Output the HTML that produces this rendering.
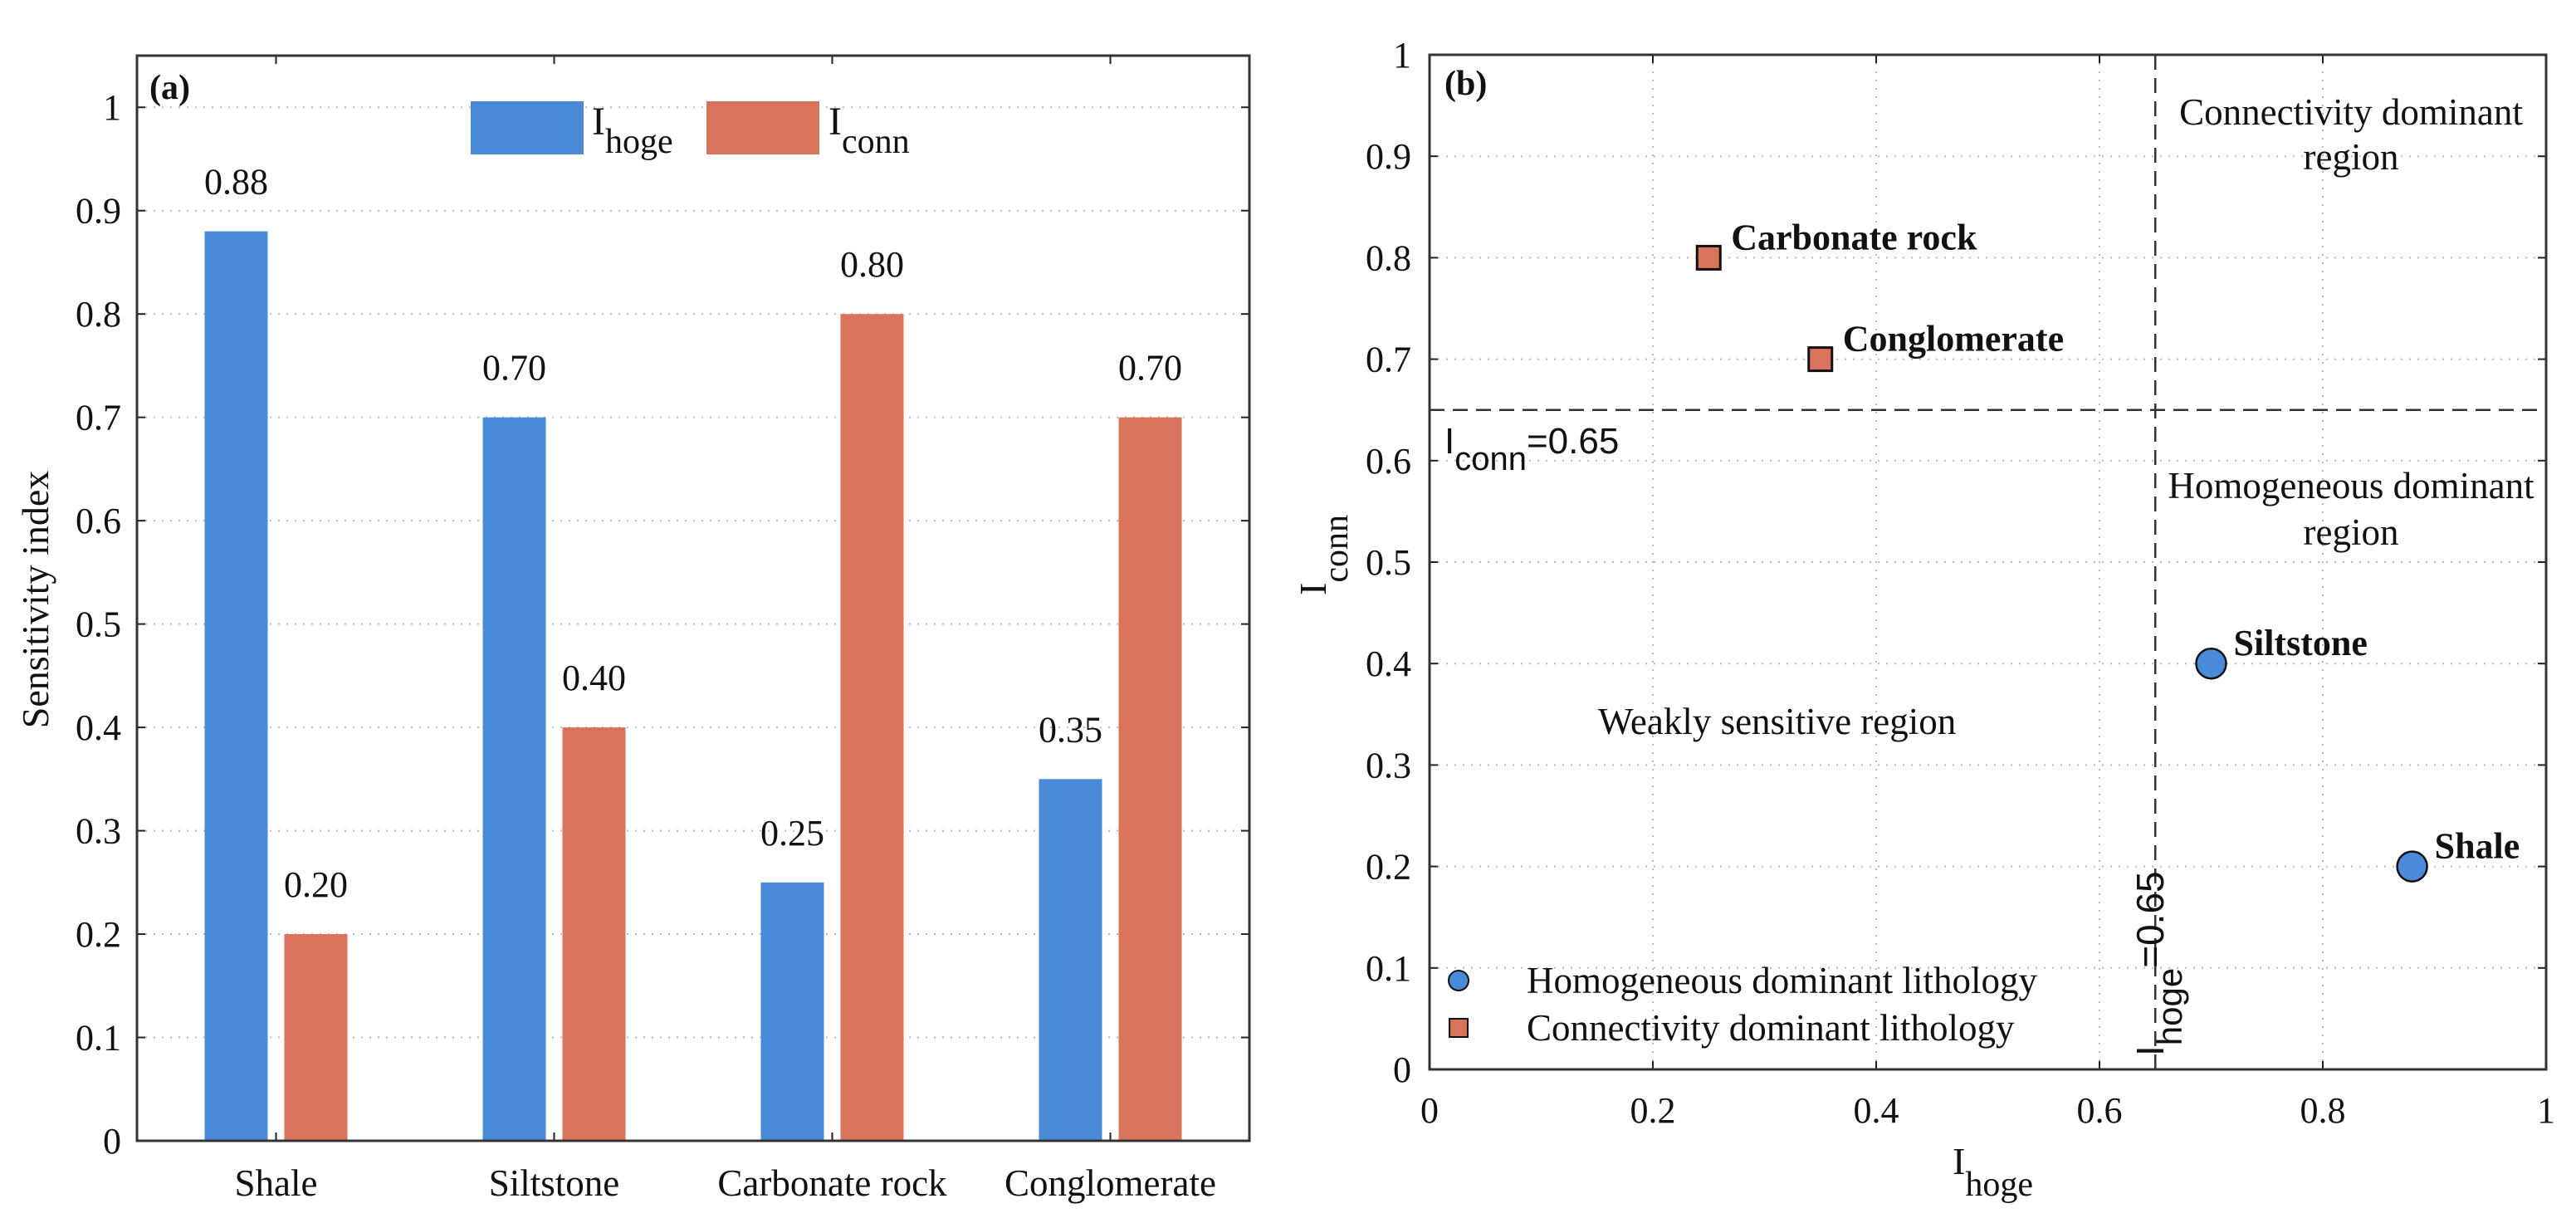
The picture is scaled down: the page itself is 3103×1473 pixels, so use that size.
<!DOCTYPE html>
<html><head><meta charset="utf-8"><style>
html,body{margin:0;padding:0;background:#fff;}
svg{display:block;}
text{font-family:"Liberation Serif",serif;fill:#111;}
.sans{font-family:"Liberation Sans",sans-serif;}
</style></head><body>
<svg id="chart" width="3103" height="1473" viewBox="0 0 3103 1473" xmlns="http://www.w3.org/2000/svg">
<g id="pa"></g>
<g id="pb"></g>
</svg>
<script>
const categories = ["Shale","Siltstone","Carbonate rock","Conglomerate"];
const hogeValues = [0.88,0.70,0.25,0.35];
const connValues = [0.20,0.40,0.80,0.70];
const hogeLabels = ["0.88","0.70","0.25","0.35"];
const connLabels = ["0.20","0.40","0.80","0.70"];
const yTicksA = [0,0.1,0.2,0.3,0.4,0.5,0.6,0.7,0.8,0.9,1];
const yTickLabelsA = ["0","0.1","0.2","0.3","0.4","0.5","0.6","0.7","0.8","0.9","1"];
const pointNames = ["Carbonate rock","Conglomerate","Siltstone","Shale"];
const pointX = [0.25,0.35,0.70,0.88];
const pointY = [0.80,0.70,0.40,0.20];
const pointType = ["square","square","circle","circle"];
const xTicksB = [0,0.2,0.4,0.6,0.8,1];
const xTickLabelsB = ["0","0.2","0.4","0.6","0.8","1"];
const yTicksB = [0,0.1,0.2,0.3,0.4,0.5,0.6,0.7,0.8,0.9,1];
const yTickLabelsB = ["0","0.1","0.2","0.3","0.4","0.5","0.6","0.7","0.8","0.9","1"];
const thresholdHoge = 0.65;
const thresholdConn = 0.65;

const NS="http://www.w3.org/2000/svg";
const BLUE="#4a8bd9", ORANGE="#d9735b";
function mk(parent,tag,attrs,txt){const e=document.createElementNS(NS,tag);for(const k in attrs)e.setAttribute(k,attrs[k]);if(txt!==undefined)e.textContent=txt;parent.appendChild(e);return e;}

// Panel A
const pa=document.getElementById('pa');
const AL=165,AR=1505,AT=67,AB=1374,AYMAX=1.05;
const ay=v=>AB-(v/AYMAX)*(AB-AT);
const ax=i=>AL+(i+0.5)*(AR-AL)/categories.length;
yTicksA.forEach((t,i)=>{
  if(t>0){const g=mk(pa,'line',{x1:AL,x2:AR,y1:ay(t),y2:ay(t),stroke:'#bbb','stroke-width':2,'stroke-dasharray':'2 8'});
  }
  const tl=mk(pa,'line',{x1:AL,x2:AL+10,y1:ay(t),y2:ay(t),stroke:'#222','stroke-width':2});
  
  mk(pa,'line',{x1:AR-10,x2:AR,y1:ay(t),y2:ay(t),stroke:'#222','stroke-width':2});
  const lb=mk(pa,'text',{x:146,y:ay(t)+15,'text-anchor':'end','font-size':44},yTickLabelsA[i]);
  
});
const bw=76, off=48;
categories.forEach((c,i)=>{
  const cx=ax(i);
  const b1=mk(pa,'rect',{x:cx-off-bw/2,y:ay(hogeValues[i]),width:bw,height:AB-ay(hogeValues[i]),fill:BLUE});
  
  const b2=mk(pa,'rect',{x:cx+off-bw/2,y:ay(connValues[i]),width:bw,height:AB-ay(connValues[i]),fill:ORANGE});
  
  const l1=mk(pa,'text',{x:cx-off,y:ay(hogeValues[i])-45,'text-anchor':'middle','font-size':44},hogeLabels[i]);
  
  const l2=mk(pa,'text',{x:cx+off,y:ay(connValues[i])-45,'text-anchor':'middle','font-size':44},connLabels[i]);
  
  mk(pa,'line',{x1:cx,x2:cx,y1:AB,y2:AB-10,stroke:'#222','stroke-width':2});
  mk(pa,'line',{x1:cx,x2:cx,y1:AT,y2:AT+10,stroke:'#222','stroke-width':2});
  const cl=mk(pa,'text',{x:cx,y:1440,'text-anchor':'middle','font-size':45},c);
  
});
const fa=mk(pa,'rect',{x:AL,y:AT,width:AR-AL,height:AB-AT,fill:'none',stroke:'#333','stroke-width':3});

const pla=mk(pa,'text',{x:180,y:119,'font-size':42,'font-weight':'bold'},'(a)');

const yla=mk(pa,'text',{x:58,y:722,'text-anchor':'middle','font-size':46,transform:'rotate(-90 58 722)'},'Sensitivity index');

// legend A
const lg=mk(pa,'g',{});

const lr1=mk(lg,'rect',{x:567,y:122,width:136,height:64,fill:BLUE});

const lt1=mk(lg,'text',{x:713,y:162,'font-size':48});

lt1.innerHTML='I<tspan dy="22" font-size="42">hoge</tspan>';
const lr2=mk(lg,'rect',{x:851,y:122,width:136,height:64,fill:ORANGE});

const lt2=mk(lg,'text',{x:998,y:162,'font-size':48});

lt2.innerHTML='I<tspan dy="22" font-size="42">conn</tspan>';

// Panel B
const pb=document.getElementById('pb');
const BL=1722,BR=3067,BT=66,BB=1288;
const bx=v=>BL+v*(BR-BL);
const by=v=>BB-v*(BB-BT);
yTicksB.forEach((t,i)=>{
  if(t>0&&t<1){const g=mk(pb,'line',{x1:BL,x2:BR,y1:by(t),y2:by(t),stroke:'#bbb','stroke-width':2,'stroke-dasharray':'2 8'});
  }
  mk(pb,'line',{x1:BL,x2:BL+10,y1:by(t),y2:by(t),stroke:'#222','stroke-width':2});
  mk(pb,'line',{x1:BR-10,x2:BR,y1:by(t),y2:by(t),stroke:'#222','stroke-width':2});
  const lb=mk(pb,'text',{x:1700,y:by(t)+15,'text-anchor':'end','font-size':44},yTickLabelsB[i]);
  
});
xTicksB.forEach((t,i)=>{
  if(t>0&&t<1){const g=mk(pb,'line',{x1:bx(t),x2:bx(t),y1:BT,y2:BB,stroke:'#bbb','stroke-width':2,'stroke-dasharray':'2 8'});
  }
  mk(pb,'line',{x1:bx(t),x2:bx(t),y1:BB,y2:BB-10,stroke:'#222','stroke-width':2});
  mk(pb,'line',{x1:bx(t),x2:bx(t),y1:BT,y2:BT+10,stroke:'#222','stroke-width':2});
  const lb=mk(pb,'text',{x:bx(t),y:1352,'text-anchor':'middle','font-size':44},xTickLabelsB[i]);
  
});
const th=mk(pb,'line',{x1:BL,x2:BR,y1:by(thresholdConn),y2:by(thresholdConn),stroke:'#333','stroke-width':2.5,'stroke-dasharray':'18 10'});

const tv=mk(pb,'line',{x1:bx(thresholdHoge),x2:bx(thresholdHoge),y1:BT,y2:BB,stroke:'#333','stroke-width':2.5,'stroke-dasharray':'18 10'});

pointX.forEach((v,i)=>{
  const px=bx(v),py=by(pointY[i]);let m;
  if(pointType[i]==='square') m=mk(pb,'rect',{x:px-14,y:py-14,width:28,height:28,fill:ORANGE,stroke:'#111','stroke-width':3});
  else m=mk(pb,'circle',{cx:px,cy:py,r:18,fill:BLUE,stroke:'#111','stroke-width':2.5});
  
  
  const t=mk(pb,'text',{x:px+27,y:py-10,'font-size':44,'font-weight':'bold'},pointNames[i]);
  
});
const fb=mk(pb,'rect',{x:BL,y:BT,width:BR-BL,height:BB-BT,fill:'none',stroke:'#333','stroke-width':3});

const plb=mk(pb,'text',{x:1740,y:114,'font-size':42,'font-weight':'bold'},'(b)');

[['Connectivity dominant',150],['region',204]].forEach(a=>{const t=mk(pb,'text',{x:2832,y:a[1],'text-anchor':'middle','font-size':45},a[0]);});
[['Homogeneous dominant',600],['region',656]].forEach(a=>{const t=mk(pb,'text',{x:2832,y:a[1],'text-anchor':'middle','font-size':45},a[0]);});
const wr=mk(pb,'text',{x:1925,y:884,'font-size':45},'Weakly sensitive region');

const tcl=mk(pb,'text',{x:1740,y:546,'font-size':44,'class':'sans'});

tcl.innerHTML='I<tspan dy="20" font-size="40">conn</tspan><tspan dy="-20">=0.65</tspan>';
const thl=mk(pb,'text',{x:0,y:0,'font-size':46,'class':'sans',transform:'translate(2606 1272) rotate(-90)'});

thl.innerHTML='I<tspan dy="22" font-size="42">hoge</tspan><tspan dy="-22">=0.65</tspan>';
const xlb=mk(pb,'text',{x:2352,y:1414,'font-size':46});

xlb.innerHTML='I<tspan dy="26" font-size="42">hoge</tspan>';
const ylb=mk(pb,'text',{x:0,y:0,'font-size':46,transform:'translate(1597 717) rotate(-90)'});

ylb.innerHTML='I<tspan dy="26" font-size="42">conn</tspan>';
const lgb=mk(pb,'g',{});

const lc=mk(lgb,'circle',{cx:1757,cy:1181,r:12,fill:BLUE,stroke:'#111','stroke-width':2});

const lct=mk(lgb,'text',{x:1839,y:1196,'font-size':45},'Homogeneous dominant lithology');

const ls=mk(lgb,'rect',{x:1746,y:1227,width:22,height:22,fill:ORANGE,stroke:'#111','stroke-width':2});

const lst=mk(lgb,'text',{x:1839,y:1253,'font-size':45},'Connectivity dominant lithology');

</script>
</body></html>
